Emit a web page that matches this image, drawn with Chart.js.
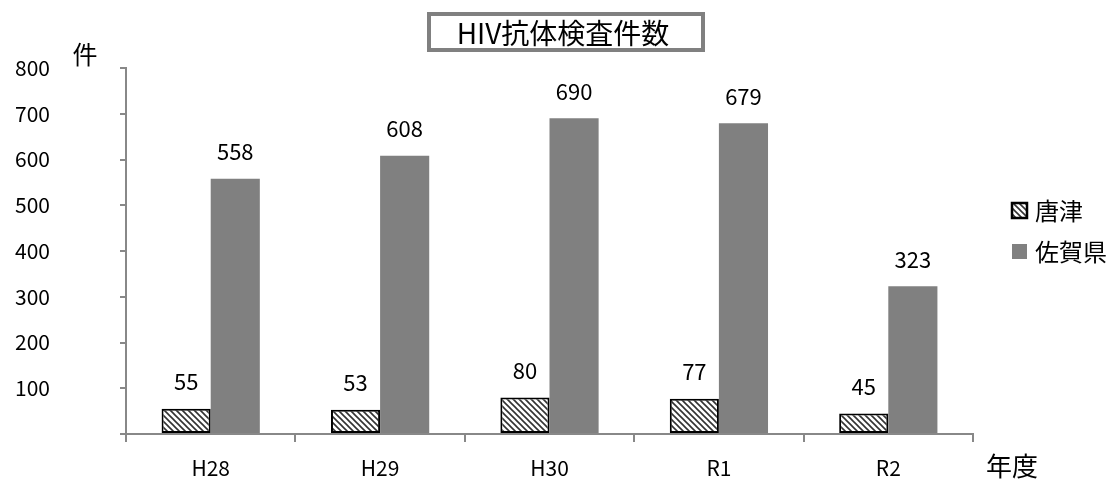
<!DOCTYPE html>
<html>
<head>
<meta charset="utf-8">
<script src="https://cdn.jsdelivr.net/npm/chart.js@4"></script>
<style>
  html, body { margin: 0; padding: 0; background: #fff; }
  #wrap { width: 1113px; height: 479px; }
</style>
</head>
<body>
<div id="wrap"><canvas id="hivChart" width="1113" height="479"></canvas></div>
<script>
var categories = ['H28', 'H29', 'H30', 'R1', 'R2'];
var karatsu = [55, 53, 80, 77, 45];
var sagaken = [558, 608, 690, 679, 323];
var seriesNames = ['唐津', '佐賀県'];
var chartTitle = 'HIV抗体検査件数';
var yUnit = '件';
var xUnit = '年度';

var FONT = '"Noto Sans CJK JP", "Noto Sans", sans-serif';

// 斜線パターン
function makeHatch() {
    var c = document.createElement('canvas');
    c.width = 6; c.height = 6;
    var g = c.getContext('2d');
    g.fillStyle = '#fff';
    g.fillRect(0, 0, 6, 6);
    g.strokeStyle = '#333';
    g.lineWidth = 1.6;
    g.beginPath();
    g.moveTo(-1, -1); g.lineTo(7, 7);
    g.moveTo(-4, 2); g.lineTo(4, 10);
    g.moveTo(2, -4); g.lineTo(10, 4);
    g.stroke();
    return g.createPattern(c, 'repeat');
}

document.addEventListener('DOMContentLoaded', function () {
    var ctx = document.getElementById('hivChart').getContext('2d');
    var hatch = makeHatch();

    var decorPlugin = {
        id: 'decor',
        afterDatasetsDraw: function (chart) {
            var c = chart.ctx;
            c.save();
            // 値ラベル
            c.fillStyle = '#000';
            c.font = '22px ' + FONT;
            c.textAlign = 'center';
            c.textBaseline = 'middle';
            chart.data.datasets.forEach(function (ds, i) {
                chart.getDatasetMeta(i).data.forEach(function (bar, j) {
                    c.fillText(ds.data[j], bar.x, bar.y - 27);
                });
            });

            // タイトル
            c.font = '28px ' + FONT;
            c.strokeStyle = '#808080';
            c.lineWidth = 4;
            c.strokeRect(429, 14, 274, 36);
            c.fillText(chartTitle, 563, 33);

            // 軸タイトル
            c.font = '25px ' + FONT;
            c.fillText(yUnit, 85, 54);
            c.font = '26px ' + FONT;
            c.fillText(xUnit, 1012, 466);

            // 凡例
            c.font = '24px ' + FONT;
            c.textAlign = 'left';
            var items = [
                { y: 210, fill: hatch, border: true },
                { y: 251, fill: '#808080', border: false }
            ];
            items.forEach(function (it, k) {
                c.fillStyle = it.fill;
                c.fillRect(1012, it.y - 7, 15, 15);
                if (it.border) {
                    c.strokeStyle = '#000';
                    c.lineWidth = 2.5;
                    c.strokeRect(1012, it.y - 7, 15, 15);
                }
                c.fillStyle = '#000';
                c.fillText(seriesNames[k], 1035, it.y + 1);
            });
            c.restore();
        }
    };

    new Chart(ctx, {
        type: 'bar',
        data: {
            labels: categories,
            datasets: [{
                label: seriesNames[0],
                data: karatsu,
                backgroundColor: hatch,
                borderColor: '#000',
                borderWidth: 2,
                borderSkipped: false
            }, {
                label: seriesNames[1],
                data: sagaken,
                backgroundColor: '#808080',
                borderWidth: 0
            }]
        },
        options: {
            responsive: false,
            animation: false,
            layout: { padding: { top: 68, right: 140, left: 15, bottom: 0 } },
            plugins: {
                legend: { display: false },
                tooltip: { enabled: false }
            },
            datasets: {
                bar: { barPercentage: 1.0, categoryPercentage: 0.58 }
            },
            scales: {
                x: {
                    afterFit: function (s) { s.height = 45; },
                    border: { color: '#888', width: 2 },
                    grid: { drawOnChartArea: false, tickLength: 8, color: '#888', lineWidth: 2, offset: true },
                    ticks: { color: '#000', font: { family: FONT, size: 21 }, padding: 13 }
                },
                y: {
                    min: 0,
                    max: 800,
                    afterFit: function (s) { s.width = 111; },
                    border: { color: '#888', width: 2 },
                    grid: { drawOnChartArea: false, tickLength: 6, color: '#888', lineWidth: 2 },
                    ticks: {
                        stepSize: 100,
                        color: '#000',
                        font: { family: FONT, size: 21 },
                        crossAlign: 'far',
                        padding: 8,
                        callback: function (v) { return v === 0 ? '' : v; }
                    }
                }
            }
        },
        plugins: [decorPlugin]
    });
});
</script>
</body>
</html>
